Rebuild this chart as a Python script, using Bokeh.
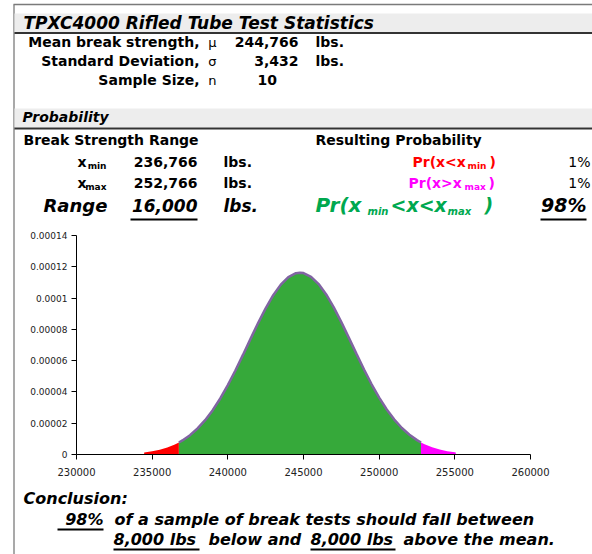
from bokeh.plotting import figure
from bokeh.models import Range1d, LinearAxis, FixedTicker, Label
from bokeh.embed import file_html
from bokeh.resources import INLINE

# ---------------- data ----------------
title_text = "TPXC4000 Rifled Tube Test Statistics"
mean_strength = "244,766"
std_dev = "3,432"
sample_size = "10"
x_min_val = "236,766"
x_max_val = "252,766"
range_val = "16,000"
p_below = "1%"
p_above = "1%"
p_between = "98%"
half_range = "8,000 lbs"

# lower tail (x < x_min)
red_x = [234470, 235000, 235500, 236000, 236500, 236766]
red_y = [1.29e-6, 2.03e-6, 3.04e-6, 4.45e-6, 6.39e-6, 7.68e-6]

# central region (x_min < x < x_max)
green_x = [236766, 237000, 237500, 238000, 238500, 239000, 239500, 240000,
           240500, 241000, 241500, 242000, 242500, 243000, 243500, 244000,
           244500, 244766, 245000, 245500, 246000, 246500, 247000, 247500,
           248000, 248500, 249000, 249500, 250000, 250500, 251000, 251500,
           252000, 252500, 252766]
green_y = [7.68e-6, 8.98e-6, 1.236e-5, 1.665e-5, 2.196e-5, 2.834e-5, 3.582e-5, 4.432e-5,
           5.369e-5, 6.366e-5, 7.391e-5, 8.401e-5, 9.348e-5, 1.0183e-4, 1.0860e-4, 1.1338e-4,
           1.1589e-4, 1.1624e-4, 1.1597e-4, 1.1361e-4, 1.0897e-4, 1.0231e-4, 9.405e-5, 8.464e-5,
           7.457e-5, 6.432e-5, 5.431e-5, 4.490e-5, 3.634e-5, 2.879e-5, 2.233e-5, 1.696e-5,
           1.261e-5, 9.18e-6, 7.68e-6]

# upper tail (x > x_max)
mag_x = [252766, 253000, 253500, 254000, 254500, 255000, 255062]
mag_y = [7.68e-6, 6.54e-6, 4.56e-6, 3.12e-6, 2.08e-6, 1.36e-6, 1.29e-6]

x_ticks = [230000, 235000, 240000, 245000, 250000, 255000, 260000]
x_tick_labels = ["230000", "235000", "240000", "245000", "250000", "255000", "260000"]
y_ticks = [0, 0.00002, 0.00004, 0.00006, 0.00008, 0.0001, 0.00012, 0.00014]
y_tick_labels = ["0", "0.00002", "0.00004", "0.00006", "0.00008", "0.0001", "0.00012", "0.00014"]

# ---------------- layout helpers (page pixel -> data) ----------------
XMIN, XMAX = 230000, 260000
YMIN, YMAX = 0.0, 0.00014
PX0, PX1 = 76.0, 530.0      # page x of XMIN, XMAX
PY0, PY1 = 454.0, 235.0     # page y of YMIN, YMAX


def dx(X):
    return XMIN + (X - PX0) * (XMAX - XMIN) / (PX1 - PX0)


def dy(Y):
    return YMIN + (PY0 - Y) * (YMAX - YMIN) / (PY0 - PY1)


W, H = 592, 554
p = figure(width=W, height=H,
           x_range=Range1d(dx(0), dx(W)), y_range=Range1d(dy(H), dy(0)),
           output_backend="svg", toolbar_location=None,
           x_axis_location=None, y_axis_location=None, min_border=0)
p.outline_line_color = None
p.grid.visible = False
p.background_fill_color = "white"

FONT = "DejaVu Sans"
BASE_SHIFT = 0.4   # label baseline correction (fraction of font size)


def txt(X, Y, s, size=14, style="bold", color="#000000", align="left"):
    p.add_layout(Label(x=dx(X), y=dy(Y - BASE_SHIFT * size), text=s, text_font=FONT,
                       text_font_size=f"{size}px", text_font_style=style,
                       text_color=color, text_align=align, text_baseline="alphabetic"))


def hline(X0, X1, Y, color="#000000", w=1.0):
    p.segment(x0=[dx(X0)], y0=[dy(Y)], x1=[dx(X1)], y1=[dy(Y)], line_color=color, line_width=w)


def band(Y0, Y1):
    p.quad(left=[dx(14)], right=[dx(600)], top=[dy(Y0)], bottom=[dy(Y1)],
           fill_color="#EDEDED", line_color=None)


# ---------------- frame / bands ----------------
p.segment(x0=[dx(13.5)], y0=[dy(4)], x1=[dx(13.5)], y1=[dy(600)], line_color="#8C8C8C", line_width=1.5)
hline(13, 600, 4, "#7A7A7A", 1.5)
band(13, 32)
hline(14, 600, 32.5, "#333333", 2)
band(108, 127)
hline(14, 600, 128, "#333333", 2)

# ---------------- header ----------------
txt(23, 29, title_text, 17, "bold italic")
txt(199, 47, "Mean break strength,", 14, align="right")
txt(216, 47, "\u03bc", 13, "normal", align="right")
txt(298, 47, mean_strength, 14, align="right")
txt(315, 47, "lbs.", 14)
txt(199, 66, "Standard Deviation,", 14, align="right")
txt(216, 66, "\u03c3", 13, "normal", align="right")
txt(298, 66, std_dev, 14, align="right")
txt(315, 66, "lbs.", 14)
txt(199, 85, "Sample Size,", 14, align="right")
txt(216, 85, "n", 13, "normal", align="right")
txt(257, 85, sample_size, 14)

txt(22, 122, "Probability", 14, "bold italic")
txt(23, 145, "Break Strength Range", 14)
txt(315, 145, "Resulting Probability", 14)

txt(86, 167, "x", 14, align="right")
txt(106, 169, "min", 9, align="right")
txt(197, 167, x_min_val, 14, align="right")
txt(223, 167, "lbs.", 14)
txt(86, 188, "x", 14, align="right")
txt(106, 190, "max", 9, align="right")
txt(197, 188, x_max_val, 14, align="right")
txt(223, 188, "lbs.", 14)

txt(43, 212, "Range", 18, "bold italic")
txt(197, 212, range_val, 17, "bold italic", align="right")
hline(130, 197, 219, "#000000", 2)
txt(223, 212, "lbs.", 17, "bold italic")

RED, MAG, GRN = "#FF0000", "#FF00FF", "#00A84F"
txt(412, 167, "Pr(x<x", 14, color=RED)
txt(467, 169, "min", 9, color=RED)
txt(489, 167, ")", 14, color=RED)
txt(590, 167, p_below, 14, "normal", align="right")
txt(408, 188, "Pr(x>x", 14, color=MAG)
txt(464, 190, "max", 9, color=MAG)
txt(488, 188, ")", 14, color=MAG)
txt(590, 188, p_above, 14, "normal", align="right")

txt(315, 212, "Pr(x", 20, "bold italic", GRN)
txt(367, 215, "min", 10, "bold italic", GRN)
txt(390, 212, "<x<x", 19, "bold italic", GRN)
txt(447, 215, "max", 10, "bold italic", GRN)
txt(484, 212, ")", 19, "bold italic", GRN)
txt(586, 212, p_between, 19, "bold italic", align="right")
hline(540, 586, 219, "#000000", 2)

# ---------------- chart ----------------
p.varea(x=red_x, y1=0, y2=red_y, fill_color="#FF0000")
p.varea(x=green_x, y1=0, y2=green_y, fill_color="#36A93A")
p.varea(x=mag_x, y1=0, y2=mag_y, fill_color="#FF00FF")
p.line(green_x, green_y, line_color="#8064A2", line_width=2.5)

xaxis = LinearAxis(ticker=FixedTicker(ticks=x_ticks), fixed_location=0,
                   bounds=(XMIN, XMAX))
xaxis.major_label_overrides = dict(zip(x_ticks, x_tick_labels))
xaxis.major_label_text_font = FONT
xaxis.major_label_text_font_size = "10px"
xaxis.major_label_text_color = "#222222"
xaxis.major_tick_in = 0
xaxis.major_tick_out = 5
xaxis.minor_tick_out = 0
xaxis.minor_tick_in = 0
xaxis.major_label_standoff = 8
xaxis.axis_line_color = "black"
p.add_layout(xaxis, "below")

yaxis = LinearAxis(ticker=FixedTicker(ticks=y_ticks), fixed_location=XMIN,
                   bounds=(YMIN, YMAX))
yaxis.major_label_overrides = dict(zip(y_ticks, y_tick_labels))
yaxis.major_label_text_font = FONT
yaxis.major_label_text_font_size = "9px"
yaxis.major_label_text_color = "#222222"
yaxis.major_tick_in = 0
yaxis.major_tick_out = 5
yaxis.minor_tick_out = 0
yaxis.minor_tick_in = 0
yaxis.major_label_standoff = 4
yaxis.axis_line_color = "black"
p.add_layout(yaxis, "left")

# ---------------- conclusion ----------------
txt(23, 504, "Conclusion:", 16, "bold italic")
txt(103, 525, p_between, 16, "bold italic", align="right")
hline(57, 103, 529, "#000000", 2)
txt(114, 525, "of a sample of break tests should fall between", 16, "bold italic")
txt(113, 545, half_range, 16, "bold italic")
hline(113, 199, 549, "#000000", 2)
txt(208, 545, "below and", 16, "bold italic")
txt(310, 545, half_range, 16, "bold italic")
hline(310, 395, 549, "#000000", 2)
txt(403, 545, "above the mean.", 16, "bold italic")

open("out.html", "w").write(file_html(p, INLINE))
